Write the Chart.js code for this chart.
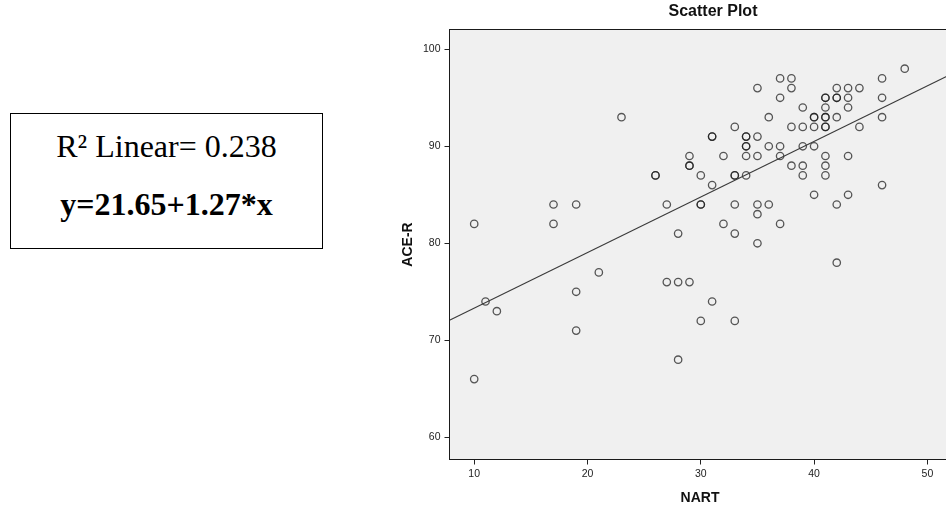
<!DOCTYPE html>
<html>
<head>
<meta charset="utf-8">
<script src="https://cdn.jsdelivr.net/npm/chart.js@4.4.0/dist/chart.umd.min.js"></script>
<style>
html,body{margin:0;padding:0;background:#fff;overflow:hidden;width:946px;height:506px;}
#wrap{position:absolute;left:0;top:0;width:960px;height:506px;}
#box{position:absolute;left:10px;top:113px;width:311px;height:134px;border:1.5px solid #000;font-family:"Liberation Serif","Times New Roman",serif;color:#000;text-align:center;}
#l1{position:absolute;left:0;right:0;top:14px;font-size:32px;line-height:36px;white-space:nowrap;}
#l2{position:absolute;left:0;right:0;top:72px;font-size:32px;font-weight:bold;line-height:36px;white-space:nowrap;}
</style>
</head>
<body>
<div id="box"><div id="l1">R² Linear= 0.238</div><div id="l2">y=21.65+1.27*x</div></div>
<div id="wrap"><canvas id="c" width="960" height="506"></canvas></div>
<script>
const chartTitle = 'Scatter Plot';
const xAxisTitle = 'NART';
const yAxisTitle = 'ACE-R';
const xTickValues = [10, 20, 30, 40, 50];
const yTickValues = [60, 70, 80, 90, 100];
const xRange = [7.82, 52.04];
const yRange = [57.71, 102.04];
const nartValues = [10,10,11,12,17,17,19,19,19,21,23,26,26,27,27,28,28,28,29,29,29,29,30,30,30,30,31,31,31,31,32,32,33,33,33,33,33,33,34,34,34,34,34,34,35,35,35,35,35,35,36,36,36,37,37,37,37,37,38,38,38,38,39,39,39,39,39,40,40,40,40,40,41,41,41,41,41,41,41,41,41,41,42,42,42,42,42,42,43,43,43,43,43,44,44,46,46,46,46,48];
const acerValues = [82,66,74,73,84,82,84,75,71,77,93,87,87,84,76,81,76,68,89,88,88,76,87,84,84,72,91,91,86,74,89,82,92,87,87,84,81,72,91,91,90,90,89,87,96,91,89,84,83,80,93,90,84,97,95,90,89,82,97,96,92,88,94,92,90,88,87,93,93,92,90,85,95,95,94,93,93,92,92,89,88,87,96,95,95,93,84,78,96,95,94,89,85,96,92,97,95,93,86,98];
const fitLineX = [7.82, 52.04];
const fitLineY = [72.07, 97.41];

const scatterData = nartValues.map((x, i) => ({x: x, y: acerValues[i]}));
const fitData = fitLineX.map((x, i) => ({x: x, y: fitLineY[i]}));

const frame = {
  id: 'frame',
  beforeDraw(chart) {
    const {ctx, chartArea: a} = chart;
    ctx.save();
    ctx.fillStyle = '#f0f0f0';
    ctx.fillRect(a.left, a.top, a.right - a.left, a.bottom - a.top);
    ctx.restore();
  },
  afterDraw(chart) {
    const {ctx, chartArea: a} = chart;
    ctx.save();
    ctx.strokeStyle = '#1a1a1a';
    ctx.lineWidth = 1;
    ctx.strokeRect(a.left, a.top, a.right - a.left, a.bottom - a.top);
    ctx.fillStyle = '#111';
    ctx.font = 'bold 16px "Liberation Sans", Arial, sans-serif';
    ctx.textAlign = 'center';
    ctx.textBaseline = 'middle';
    ctx.fillText(chartTitle, (a.left + a.right) / 2 + 13, 12);
    ctx.restore();
  }
};

new Chart(document.getElementById('c'), {
  type: 'scatter',
  data: {
    datasets: [
      {
        type: 'scatter',
        data: scatterData,
        pointStyle: 'circle',
        pointRadius: 3.7,
        pointBorderWidth: 1.3,
        pointBorderColor: 'rgba(25,25,25,0.72)',
        pointBackgroundColor: 'rgba(0,0,0,0)',
        order: 2
      },
      {
        type: 'line',
        data: fitData,
        borderColor: '#3a3a3a',
        borderWidth: 1.1,
        pointRadius: 0,
        fill: false,
        order: 1
      }
    ]
  },
  plugins: [frame],
  options: {
    responsive: false,
    animation: false,
    events: [],
    layout: {padding: {left: 0, top: 29.5, right: 9.5, bottom: 0}},
    plugins: {legend: {display: false}, tooltip: {enabled: false}, title: {display: false}},
    scales: {
      x: {
        type: 'linear',
        min: xRange[0],
        max: xRange[1],
        afterBuildTicks: s => { s.ticks = xTickValues.map(v => ({value: v})); },
        afterFit: s => { s.height = 46.5; },
        grid: {drawOnChartArea: false, drawTicks: true, tickLength: 5, color: '#222', lineWidth: 1},
        border: {display: false},
        ticks: {color: '#222', padding: 3, font: {family: '"Liberation Sans", Arial, sans-serif', size: 10.5}},
        title: {display: true, text: xAxisTitle, color: '#111', padding: {top: 0, bottom: 1},
                font: {family: '"Liberation Sans", Arial, sans-serif', size: 14, weight: 'bold', lineHeight: 1}}
      },
      y: {
        type: 'linear',
        min: yRange[0],
        max: yRange[1],
        afterBuildTicks: s => { s.ticks = yTickValues.map(v => ({value: v})); },
        afterFit: s => { s.width = 449.5; },
        grid: {drawOnChartArea: false, drawTicks: true, tickLength: 5, color: '#222', lineWidth: 1},
        border: {display: false},
        ticks: {color: '#222', padding: 4, font: {family: '"Liberation Sans", Arial, sans-serif', size: 10.5}},
        title: {display: true, text: yAxisTitle, color: '#111', padding: {top: 401, bottom: 0},
                font: {family: '"Liberation Sans", Arial, sans-serif', size: 14, weight: 'bold', lineHeight: 1}}
      }
    }
  }
});
</script>
</body>
</html>
